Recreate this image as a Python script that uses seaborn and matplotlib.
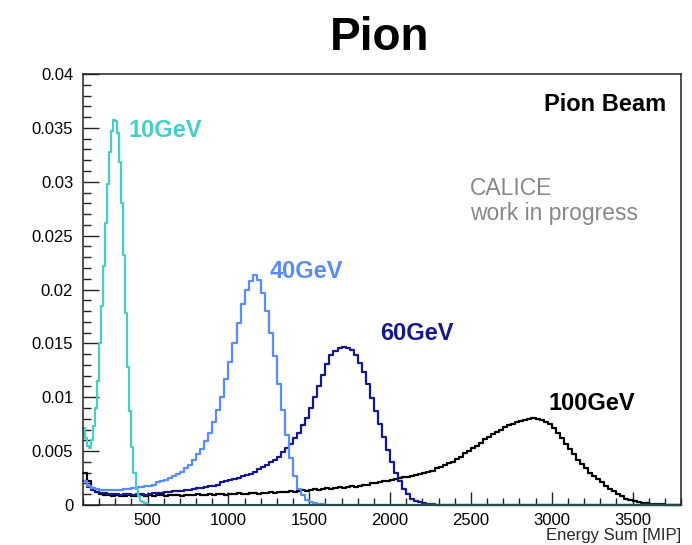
import numpy as np
import pandas as pd
import matplotlib
matplotlib.use("Agg")
import matplotlib.pyplot as plt
import seaborn as sns
from matplotlib.ticker import MultipleLocator

# ---------------- data ----------------
BIN_START = 100        # MIP, left edge of first bin
BIN_WIDTH = 25         # MIP, binning used for 40/60/100 GeV
BIN_WIDTH_10 = 12.5    # MIP, finer binning for the narrow 10 GeV peak

series_labels = ["10GeV", "40GeV", "60GeV", "100GeV"]

pion_10gev = [0.0071, 0.0062, 0.0055, 0.0053, 0.0060, 0.0073, 0.0090, 0.0115,
              0.0150, 0.0185, 0.0222, 0.0262, 0.0298, 0.0328, 0.0347, 0.0357,
              0.0356, 0.0345, 0.0318, 0.0280, 0.0232, 0.0178, 0.0128, 0.0087,
              0.0054, 0.0030, 0.0015, 0.0008, 0.0004, 0.0003, 0.0002, 0.0001] + [0.0] * 264

pion_40gev = [0.0022, 0.0018, 0.0016, 0.0015, 0.0014, 0.0014, 0.0014, 0.0014,
              0.0014, 0.0014, 0.0015, 0.0015, 0.0016, 0.0017, 0.0017, 0.0018,
              0.0018, 0.0019, 0.0021, 0.0022, 0.0023, 0.0025, 0.0027, 0.0029,
              0.0031, 0.0034, 0.0037, 0.0042, 0.0047, 0.0052, 0.0059, 0.0067,
              0.0077, 0.0088, 0.0100, 0.0117, 0.0133, 0.0150, 0.0169, 0.0187,
              0.0200, 0.0208, 0.0213, 0.0209, 0.0197, 0.0180, 0.0160, 0.0138,
              0.0112, 0.0088, 0.0065, 0.0044, 0.0027, 0.0015, 0.0009, 0.0005,
              0.0003, 0.0002, 0.0001, 0.00005, 0.0, 0.0, 0.0, 0.0] + [0.0] * 84

pion_60gev = [0.0022, 0.0017, 0.0014, 0.0012, 0.0011, 0.0011, 0.0010, 0.0010,
              0.0010, 0.0009, 0.0010, 0.0010, 0.0009, 0.0010, 0.0010, 0.0009,
              0.0010, 0.0011, 0.0011, 0.0011, 0.0012, 0.0012, 0.0013, 0.0013,
              0.0013, 0.0014, 0.0014, 0.0015, 0.0016, 0.0016, 0.0017, 0.0018,
              0.0018, 0.0019, 0.0021, 0.0022, 0.0023, 0.0024, 0.0025, 0.0027,
              0.0028, 0.0029, 0.0031, 0.0033, 0.0035, 0.0037, 0.0040, 0.0042,
              0.0045, 0.0049, 0.0053, 0.0057, 0.0062, 0.0067, 0.0074, 0.0081,
              0.0090, 0.0100, 0.0110, 0.0121, 0.0131, 0.0139, 0.0143, 0.0146,
              0.0147, 0.0146, 0.0144, 0.0139, 0.0132, 0.0123, 0.0112, 0.0099,
              0.0087, 0.0075, 0.0063, 0.0051, 0.0040, 0.0030, 0.0022, 0.0015,
              0.0010, 0.0006, 0.0004, 0.0003, 0.0002, 0.0001, 0.00005, 0.0] + [0.0] * 60

pion_100gev = [0.0030, 0.0022, 0.0016, 0.0012, 0.0010, 0.0009, 0.0009, 0.0008,
               0.0009, 0.0008, 0.0008, 0.0009, 0.0008, 0.0008, 0.0009, 0.0008,
               0.0009, 0.0008, 0.0009, 0.0009, 0.0008, 0.0009, 0.0009, 0.0009,
               0.0008, 0.0009, 0.0009, 0.0009, 0.0010, 0.0009, 0.0009, 0.0010,
               0.0009, 0.0010, 0.0010, 0.0009, 0.0010, 0.0010, 0.0011, 0.0010,
               0.0010, 0.0011, 0.0011, 0.0010, 0.0011, 0.0011, 0.0012, 0.0011,
               0.0012, 0.0012, 0.0012, 0.0013, 0.0012, 0.0013, 0.0014, 0.0013,
               0.0014, 0.0015, 0.0014, 0.0015, 0.0016, 0.0015, 0.0016, 0.0017,
               0.0016, 0.0017, 0.0018, 0.0017, 0.0018, 0.0019, 0.0019, 0.0020,
               0.0020, 0.0021, 0.0022, 0.0022, 0.0023, 0.0024, 0.0025, 0.0026,
               0.0026, 0.0027, 0.0028, 0.0029, 0.0030, 0.0031, 0.0032, 0.0034,
               0.0035, 0.0037, 0.0039, 0.0040, 0.0043, 0.0045, 0.0048, 0.0050,
               0.0053, 0.0055, 0.0058, 0.0061, 0.0063, 0.0066, 0.0068, 0.0070,
               0.0072, 0.0074, 0.0075, 0.0077, 0.0078, 0.0079, 0.0080, 0.0081,
               0.0080, 0.0079, 0.0077, 0.0075, 0.0071, 0.0067, 0.0062, 0.0057,
               0.0052, 0.0047, 0.0042, 0.0038, 0.0034, 0.0030, 0.0027, 0.0024,
               0.0021, 0.0018, 0.0015, 0.0013, 0.0010, 0.0008, 0.0006, 0.0005,
               0.0004, 0.0003, 0.0002, 0.0002, 0.0001, 0.0001, 0.0001, 0.00005,
               0.00003, 0.0, 0.0, 0.0]

x_ticks = [500, 1000, 1500, 2000, 2500, 3000, 3500]
x_tick_labels = ["500", "1000", "1500", "2000", "2500", "3000", "3500"]
y_ticks = [0, 0.005, 0.01, 0.015, 0.02, 0.025, 0.03, 0.035, 0.04]
y_tick_labels = ["0", "0.005", "0.01", "0.015", "0.02", "0.025", "0.03", "0.035", "0.04"]

# ---------------- style ----------------
sns.set_style("ticks")
plt.rcParams['font.family'] = ['Liberation Sans', 'DejaVu Sans']

c_10 = "#45CFC7"
c_40 = "#5A8CF5"
c_60 = "#17178C"
c_100 = "#000000"

fig = plt.figure(figsize=(6.92, 5.45), dpi=100)
ax = fig.add_axes([0.1199, 0.0734, 0.8642, 0.7908])

draw = [(pion_100gev, BIN_WIDTH, c_100), (pion_60gev, BIN_WIDTH, c_60),
        (pion_40gev, BIN_WIDTH, c_40), (pion_10gev, BIN_WIDTH_10, c_10)]
for vals, bw, col in draw:
    vals = np.asarray(vals, dtype=float)
    edges = BIN_START + bw * np.arange(len(vals) + 1)
    df = pd.DataFrame({"energy": edges[:-1] + bw / 2, "w": vals})
    sns.histplot(data=df, x="energy", weights="w", bins=[float(e) for e in edges],
                 element="step", fill=False, color=col, linewidth=1.6, ax=ax)

for ln in ax.lines:
    ln.set_clip_on(False)

ax.set_xlim(100, 3800)
ax.set_ylim(0, 0.04)
ax.set_xticks(x_ticks)
ax.set_xticklabels(x_tick_labels)
ax.set_yticks(y_ticks)
ax.set_yticklabels(y_tick_labels)
ax.xaxis.set_minor_locator(MultipleLocator(100))
ax.yaxis.set_minor_locator(MultipleLocator(0.001))
ax.tick_params(axis="x", which="major", direction="in", length=9.5, width=1, pad=6,
               labelsize=12, colors="#222222", labelcolor="black")
ax.tick_params(axis="x", which="minor", direction="in", length=5, width=1, colors="#222222")
ax.tick_params(axis="y", which="major", direction="in", length=11.5, width=1, pad=7,
               labelsize=12, colors="#222222", labelcolor="black")
ax.tick_params(axis="y", which="minor", direction="in", length=6, width=1, colors="#222222")
ax.tick_params(top=False, right=False, which="both")
for sp in ax.spines.values():
    sp.set_color("#222222")
    sp.set_linewidth(1.1)
ax.set_facecolor("white")

ax.set_ylabel("")
ax.set_xlabel("Energy Sum [MIP]", fontsize=12, ha="right", va="top")
ax.xaxis.set_label_coords(1.0, -0.054)

# ---------------- annotations ----------------
ax.text(0.0753, 0.854, series_labels[0], transform=ax.transAxes, color=c_10,
        fontsize=17, fontweight="bold", va="baseline", ha="left")
ax.text(0.3127, 0.5267, series_labels[1], transform=ax.transAxes, color=c_40,
        fontsize=17, fontweight="bold", va="baseline", ha="left")
ax.text(0.4967, 0.383, series_labels[2], transform=ax.transAxes, color=c_60,
        fontsize=17, fontweight="bold", va="baseline", ha="left")
ax.text(0.779, 0.2204, series_labels[3], transform=ax.transAxes, color=c_100,
        fontsize=17, fontweight="bold", va="baseline", ha="left")
ax.text(0.975, 0.914, "Pion Beam", transform=ax.transAxes, color="black",
        fontsize=17, fontweight="bold", va="baseline", ha="right")
ax.text(0.647, 0.719, "CALICE", transform=ax.transAxes, color="#888888",
        fontsize=16.5, va="baseline", ha="left")
ax.text(0.647, 0.661, "work in progress", transform=ax.transAxes, color="#888888",
        fontsize=16.5, va="baseline", ha="left")

fig.text(0.549, 0.908, "Pion", fontsize=33, fontweight="bold", ha="center",
         va="baseline", color="black")

fig.savefig("out.png", dpi=100, facecolor="white")
